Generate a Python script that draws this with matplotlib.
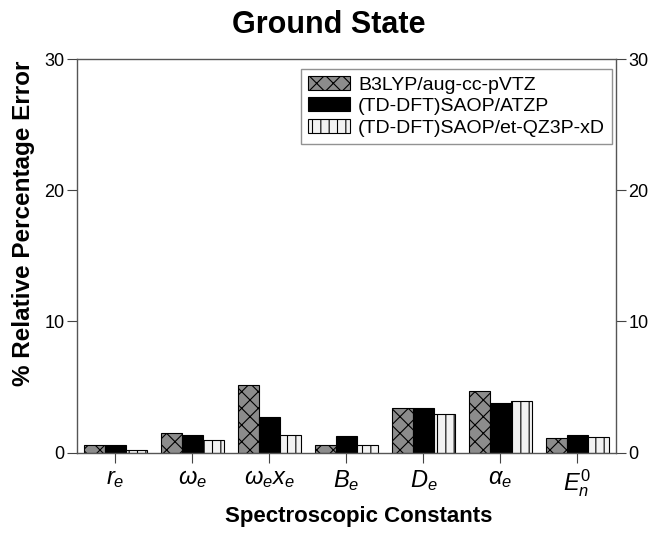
import numpy as np
import matplotlib
matplotlib.use("Agg")
import matplotlib.pyplot as plt

plt.rcParams['font.family'] = ['Liberation Sans', 'DejaVu Sans']
plt.rcParams['mathtext.fontset'] = 'custom'
plt.rcParams['mathtext.rm'] = 'Liberation Sans'
plt.rcParams['mathtext.it'] = 'Liberation Sans:italic'
plt.rcParams['mathtext.bf'] = 'Liberation Sans:bold'
plt.rcParams['hatch.linewidth'] = 0.8

# data
constants = [r'$r_e$', r'$\omega_e$', r'$\omega_e x_e$', r'$B_e$', r'$D_e$', r'$\alpha_e$',
             r'$E_n^{\mathit{0}}$']
b3lyp = [0.58, 1.5, 5.12, 0.57, 3.4, 4.69, 1.08]
saop_atzp = [0.58, 1.3, 2.68, 1.26, 3.4, 3.8, 1.33]
saop_qz3p = [0.2, 0.93, 1.3, 0.57, 2.93, 3.95, 1.2]
labels = ['B3LYP/aug-cc-pVTZ', '(TD-DFT)SAOP/ATZP', '(TD-DFT)SAOP/et-QZ3P-xD']

fig = plt.figure(figsize=(6.49, 5.35), dpi=100)
ax = fig.add_axes([0.1186, 0.1542, 0.8304, 0.7355])

x = np.arange(len(constants))
w = 0.27
ax.bar(x - w, b3lyp, w, color='#8c8c8c', edgecolor='black', hatch='xx', linewidth=0.8, label=labels[0])
ax.bar(x, saop_atzp, w, color='black', edgecolor='black', linewidth=0.8, label=labels[1])
ax.bar(x + w, saop_qz3p, w, color='#f2f2f2', edgecolor='black', hatch='||', linewidth=0.8, label=labels[2])

ax.set_xlim(-0.5, 6.5)
ax.set_ylim(0, 30)
ax.set_yticks([0, 10, 20, 30])
ax.set_xticks(x)
ax.set_xticklabels(constants, fontsize=17)
ax.tick_params(axis='y', labelsize=13, direction='out', length=7, color='#444444',
               right=True, labelright=True, pad=2)
ax.tick_params(axis='x', direction='out', length=7, color='#444444', pad=4)
for s in ax.spines.values():
    s.set_color('#555555')
    s.set_linewidth(1.0)

fig.text(0.507, 0.953, 'Ground State', ha='center', va='center', fontsize=22, fontweight='bold')
fig.text(0.552, 0.034, 'Spectroscopic Constants', ha='center', va='center', fontsize=16, fontweight='bold')
fig.text(0.036, 0.583, '% Relative Percentage Error', ha='center', va='center', rotation=90,
         fontsize=17.5, fontweight='bold')

leg = ax.legend(loc='upper right', bbox_to_anchor=(0.9926, 0.9746), borderaxespad=0, fontsize=14,
                frameon=True, fancybox=False, handlelength=2.2, handleheight=0.72, borderpad=0.35,
                labelspacing=0.2, handletextpad=0.4)
leg.get_frame().set_edgecolor('#777777')
leg.get_frame().set_linewidth(1.0)

plt.savefig('out.png', dpi=100)
